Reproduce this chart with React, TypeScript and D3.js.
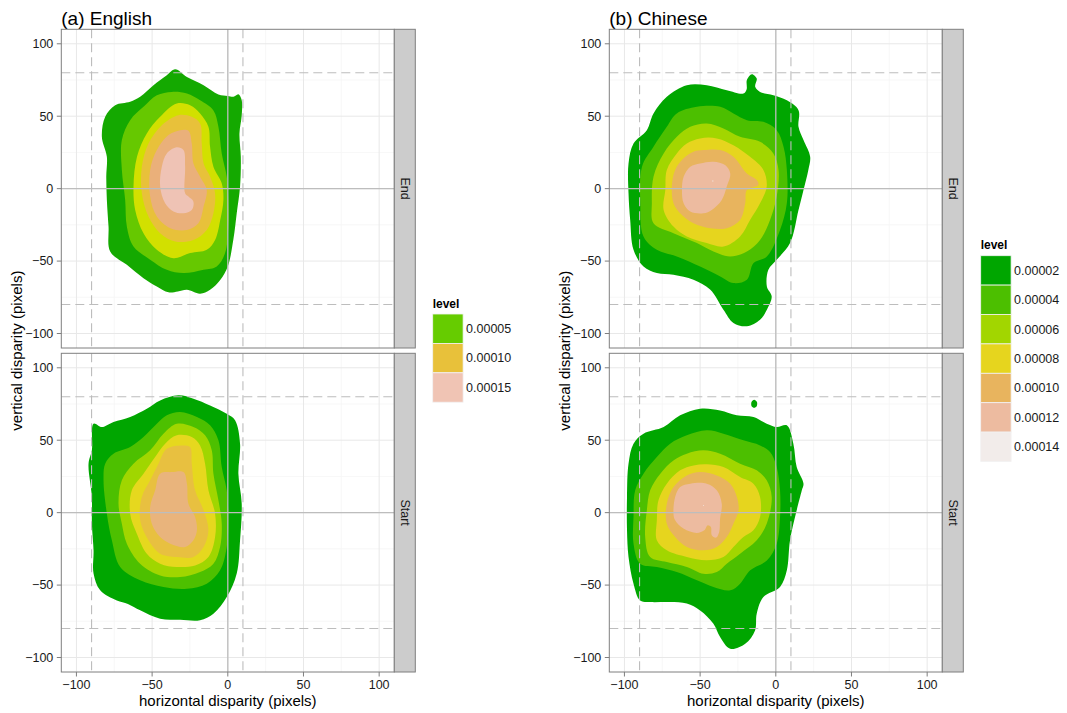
import React from "react";
import * as d3 from "d3";

type Pt = [number, number];

// ---------- axes / reference data ----------
const xTicks = [-100, -50, 0, 50, 100];
const yTicks = [-100, -50, 0, 50, 100];
const minorTicks = [-75, -25, 25, 75];
const solidRefX = [0];
const solidRefY = [0];
const dashedRefX = [-90, 10];
const dashedRefY = [-80, 80];

// ---------- legends ----------
const englishLegendLevels = [0.00005, 0.0001, 0.00015];
const englishLegendLabels = ["0.00005", "0.00010", "0.00015"];
const chineseLegendLevels = [0.00002, 0.00004, 0.00006, 0.00008, 0.0001, 0.00012, 0.00014];
const chineseLegendLabels = ["0.00002", "0.00004", "0.00006", "0.00008", "0.00010", "0.00012", "0.00014"];

// ---------- contour levels ----------
const englishEndLevels = [0.000025, 0.00005, 0.000075, 0.0001, 0.000125, 0.00015];
const englishStartLevels = [0.00002, 0.00004, 0.00006, 0.00008, 0.0001, 0.00012];
const chineseEndLevels = [0.00002, 0.00004, 0.00006, 0.00008, 0.0001, 0.00012, 0.00014];
const chineseStartLevels = [0.00002, 0.00004, 0.00006, 0.00008, 0.0001, 0.00012, 0.00014];

// ---------- contour boundaries (horizontal, vertical disparity) ----------
const englishEndContours: Pt[][] = [
  [[-34.8, 82.4], [-27, 77.1], [-16, 71.4], [-6.2, 65], [0, 64], [3.7, 63.4], [7, 65.2], [9.2, 61], [9.2, 50.7], [7.7, 38], [8.6, 22], [8.1, 1.4], [5.9, -17], [3.7, -35], [0, -53.7], [-5, -63], [-11.7, -69.8], [-18.3, -72.5], [-27, -69.8], [-33, -71], [-39.2, -71.6], [-46.9, -67.5], [-55.7, -61.8], [-66.7, -52.6], [-77.7, -43.4], [-78.8, -26.2], [-79.9, -7.8], [-80.3, 8.3], [-79.9, 22], [-83.2, 35.8], [-81, 49.6], [-74.4, 57.6], [-64.5, 60], [-57.9, 63.4], [-49.1, 71.4], [-40.3, 78.3]],
  [[-37, 66.8], [-27, 65.7], [-18.3, 61], [-9.5, 54], [-6.2, 42.7], [-4, 24.3], [-0.7, 8.3], [0.4, -7.8], [0.4, -26.2], [-1.8, -44.5], [-7.3, -53.7], [-16, -56], [-29.3, -58.3], [-40.3, -56], [-51.3, -49], [-62.3, -40], [-66.7, -26.2], [-67.8, -7.8], [-70, 12.9], [-70, 33.5], [-64.5, 47.3], [-55.7, 56.5], [-46.9, 64.5]],
  [[-33.7, 58.8], [-24.9, 57.6], [-18.3, 51.9], [-12.8, 42.7], [-11.7, 28.9], [-9.5, 15.2], [-4, 3.7], [-2.9, -7.8], [-5, -21.6], [-8.4, -35.4], [-13.9, -42.2], [-24.9, -44.5], [-35.9, -48], [-46.9, -42.2], [-55.7, -30.8], [-61.2, -14.7], [-62.3, 1.4], [-60, 22], [-53.5, 38.1], [-44.7, 49.6]],
  [[-32.6, 50.7], [-23.8, 49.6], [-18.3, 45], [-17.2, 31.2], [-16, 17.4], [-11.7, 8.3], [-8.4, -3.2], [-9.5, -17], [-13.9, -28.5], [-22.7, -35.4], [-34.8, -36.5], [-44.7, -30.8], [-52.4, -19.3], [-56.8, -3.2], [-56.8, 15.2], [-52.4, 31.2], [-43.6, 43.8]],
  [[-31.5, 40.4], [-26, 40], [-23.8, 31.2], [-22.7, 17.4], [-18.3, 8.3], [-13.9, -0.9], [-16, -12.4], [-19.4, -23.9], [-27, -28.5], [-38, -27.3], [-46.9, -19.3], [-51.3, -5.5], [-51.3, 12.9], [-46.9, 26.6], [-39.2, 37]],
  [[-33.7, 28.5], [-29.3, 26.6], [-28.2, 15.2], [-28.2, -3.2], [-26, -5.5], [-22.7, -9], [-23.8, -14.7], [-29.3, -17], [-35.9, -15.8], [-41.4, -10.1], [-44.7, 1.4], [-43.6, 15.2], [-40.3, 24.3]],
];

const englishStartContours: Pt[][] = [
  [[-32.6, 81], [-22.7, 78.7], [-11.7, 74], [-0.7, 68.3], [4.8, 63.8], [8.1, 47.6], [7, 26.9], [9.2, 6.2], [8.1, -19], [5.9, -42], [-0.7, -58.3], [-9.5, -69.8], [-18.3, -74.3], [-31.5, -74], [-44.7, -73.2], [-57.9, -67.4], [-66, -63], [-73.3, -60.6], [-84.3, -53.6], [-88.7, -42], [-88.7, -26], [-89.8, -7.6], [-89.8, 10.8], [-92, 33.8], [-89.8, 43], [-88.7, 61.4], [-83.2, 59.1], [-75.5, 62.6], [-64.5, 66.1], [-53.5, 71.8], [-44.7, 77.5]],
  [[-31.5, 69.5], [-20.4, 66], [-11.7, 60.3], [-6.2, 49.9], [-4, 31.5], [-0.7, 15.4], [0.4, -3], [-0.7, -23.7], [-5.1, -39.8], [-13.9, -49], [-27, -52.5], [-42.5, -51.3], [-57.9, -46.7], [-71.1, -37.5], [-76.6, -19.1], [-79.9, -0.7], [-82.1, 22.3], [-81, 33.8], [-75.5, 40.7], [-64.5, 45.3], [-55.7, 52.2], [-46.9, 61.4], [-40.3, 67.2]],
  [[-33.7, 61.4], [-22.7, 59.1], [-15, 53.4], [-10.6, 43], [-9.5, 26.9], [-6.2, 8.5], [-4, -7.6], [-5.1, -23.7], [-9.5, -35.2], [-18.3, -41], [-31.5, -44.5], [-44.7, -43.3], [-57.9, -35.2], [-66.7, -21.4], [-70, -7.6], [-72.2, 6.2], [-70, 22.3], [-62.3, 33.8], [-51.3, 43], [-42.5, 54.5]],
  [[-33.7, 53.4], [-23.8, 52.2], [-18.3, 46.4], [-15, 33.8], [-12.8, 15.4], [-8.4, -0.7], [-8.4, -16.8], [-12.8, -30.6], [-21.6, -36.4], [-33.7, -37.5], [-44.7, -35.2], [-53.5, -28.3], [-60.1, -14.5], [-64.5, -0.7], [-63.4, 15.4], [-55.7, 26.9], [-48, 38.4], [-41.4, 47.6]],
  [[-40.3, 44.1], [-29.3, 46.4], [-24.9, 45.3], [-23.8, 33.8], [-21.6, 15.4], [-16, 1.6], [-12.8, -12.2], [-16, -23.7], [-22.7, -30.6], [-33.7, -30.6], [-44.7, -28.3], [-52.4, -19.1], [-57.9, -5.3], [-56.8, 10.8], [-51.3, 22.3], [-45.8, 33.8]],
  [[-44.7, 26.9], [-37, 28], [-29.3, 28], [-27, 20], [-26, 6.2], [-21.6, -3], [-20.4, -12.2], [-22.7, -19.1], [-28.2, -23.7], [-38, -21.4], [-44.7, -16.8], [-50.2, -7.6], [-51.3, 3.9], [-48, 15.4]],
];

const chineseEndContours: Pt[][] = [
  [[-58.8, 71.4], [-45.6, 71.4], [-32.4, 68], [-21.4, 65.7], [-19.3, 68.5], [-19.1, 75], [-15.8, 79], [-12.6, 76], [-13.6, 70.3], [-10.4, 66.8], [-1.6, 64.5], [7.3, 61], [15, 54.2], [15, 42.7], [18.3, 33.5], [22.7, 22], [21.5, 12.9], [18.3, -0.9], [15, -14.7], [9.4, -37.6], [0.6, -49.1], [-4.9, -56], [-5.9, -67.5], [-2.7, -74.4], [-5.9, -83.6], [-10.4, -90.5], [-19.1, -95], [-28, -92.7], [-34.6, -83.6], [-43.4, -69.7], [-54.4, -62.9], [-67.6, -59.5], [-78.6, -58.3], [-87.4, -53.7], [-94, -42.2], [-96.2, -21.6], [-97.3, -3.2], [-97.3, 17.4], [-94, 31.2], [-85.2, 40.4], [-80.8, 51.9], [-72, 63.4]],
  [[-65.4, 51.9], [-52.1, 56.5], [-36.7, 56.5], [-28, 51.9], [-19.1, 47.3], [-8.2, 46.1], [0.6, 40.4], [5.1, 28.9], [7.3, 12.9], [7.3, -10.1], [2.8, -28.5], [-5.9, -46.8], [-14.7, -51.4], [-19.1, -62.9], [-28, -65.2], [-36.7, -60.6], [-50, -53.7], [-65.4, -46.8], [-78.6, -42.2], [-87.4, -33], [-89.5, -10.1], [-88.4, 15.2], [-80.8, 28.9], [-72, 42.7]],
  [[-56.5, 42.7], [-45.6, 45], [-34.6, 41.6], [-23.6, 35.8], [-10.4, 32.3], [-1.6, 24.3], [1.8, 12.9], [0.6, -5.5], [-3.8, -21.6], [-10.4, -35.4], [-19.1, -43.4], [-30.1, -46.8], [-41.2, -43.4], [-52.1, -37.6], [-67.6, -30.8], [-80.8, -23.9], [-81.9, -10.1], [-80.8, 8.3], [-74.1, 24.3], [-65.4, 35.8]],
  [[-50, 34.7], [-39, 34.7], [-28, 30], [-17, 22], [-8.2, 12.9], [-6, 1.4], [-10.4, -10.1], [-17, -21.6], [-23.6, -33], [-34.6, -40], [-45.6, -37.6], [-58.8, -33], [-67.6, -26.2], [-74.1, -14.7], [-73, -0.9], [-72, 12.9], [-65.4, 24.3], [-58.8, 31.2]],
  [[-47.8, 26.6], [-36.7, 26.6], [-28, 22], [-19.1, 10.5], [-12.6, 5.9], [-11.5, 2.5], [-19.1, -0.9], [-20.2, -10.1], [-23.6, -21.6], [-32.4, -27.3], [-43.4, -27.3], [-54.4, -23.9], [-63.2, -17], [-67.6, -10.1], [-68.7, 1.4], [-66.5, 12.9], [-60.9, 20.9], [-54.4, 25.5]],
  [[-50, 17.4], [-41.2, 18.6], [-33.5, 16.3], [-30.1, 10.5], [-32.4, 1.4], [-35.7, -7.8], [-42.3, -14.7], [-47.8, -17], [-56.5, -15.8], [-60.9, -10.1], [-62, -0.9], [-60.9, 8.3], [-56.5, 15.2]],
  [[-41.9, 5.6], [-41.3, 5.6], [-41.3, 5.0], [-41.9, 5.0]],
];

const chineseStartContours: Pt[][] = [
  [[-74.1, 59.1], [-63.2, 67.2], [-50, 71.8], [-36.8, 70.6], [-25.8, 67.2], [-14.7, 66], [-6, 61.4], [0.6, 59.1], [7.3, 60.3], [11.6, 47.6], [13.8, 31.5], [18.3, 20], [17.2, 15.4], [13.8, 1.6], [9.4, -19.1], [7.3, -39.8], [2.8, -51.3], [-8.2, -58.3], [-12.6, -69.8], [-13.7, -81.3], [-20.2, -90.5], [-30.1, -94], [-36.8, -85.9], [-41.2, -76.7], [-50, -67.5], [-58.8, -62.8], [-69.8, -61.7], [-83, -61.7], [-89.6, -60.6], [-94, -49], [-97.3, -30.6], [-98.3, -12.2], [-98.3, 10.8], [-97.3, 33.8], [-94, 47.6], [-87.4, 54.5]],
  [[-78.6, 38.4], [-69.8, 47.6], [-58.8, 53.4], [-45.6, 56.8], [-34.6, 54.5], [-21.4, 49.9], [-10.4, 46.4], [-3.8, 41.8], [0.6, 31.5], [2.8, 15.4], [2.8, -3], [0.6, -21.4], [-5.9, -33], [-16.9, -39.8], [-23.6, -49], [-30.1, -53.6], [-41.2, -51.3], [-52.1, -46.7], [-65.4, -41], [-78.6, -37.5], [-89.6, -35.2], [-94, -21.4], [-94, -3], [-92.9, 15.4], [-87.4, 26.9]],
  [[-58.8, 40.7], [-47.8, 43], [-36.8, 40.7], [-23.6, 33.8], [-12.6, 29.2], [-6, 22.3], [-2.7, 10.8], [-6, -7.6], [-12.6, -19.1], [-23.6, -28.3], [-32.4, -35.2], [-39, -41], [-47.8, -42.2], [-58.8, -37.5], [-72, -34.1], [-83, -30.6], [-86.3, -16.8], [-85.2, 1.6], [-83, 15.4], [-76.3, 26.9], [-67.4, 36.1]],
  [[-54.3, 32.6], [-45.6, 33.4], [-34.6, 31.5], [-23.6, 24.6], [-14.8, 20], [-10.4, 10.8], [-10.4, -3], [-14.8, -12.2], [-21.4, -16.8], [-28, -23.7], [-34.6, -30.6], [-45.6, -32.9], [-58.8, -30.6], [-72, -26], [-78.6, -19.1], [-78.6, -5.3], [-77.5, 8.5], [-72, 20], [-63.2, 29.2]],
  [[-58.8, 25.7], [-50, 28], [-39, 25.7], [-30.1, 20], [-25.7, 10.8], [-24.6, 1.6], [-28, -7.6], [-32.4, -16.8], [-39, -23.7], [-47.8, -26], [-58.8, -23.7], [-66.5, -16.8], [-72, -7.6], [-72, 6.2], [-67.6, 17.7]],
  [[-63.2, 17.7], [-56.5, 20], [-45.6, 20], [-39, 15.4], [-35.7, 6.2], [-36.8, -4.1], [-37.4, -13.3], [-39.4, -17.2], [-42.3, -15.6], [-42.9, -9.9], [-45.1, -8.8], [-47.3, -12.2], [-52.2, -14], [-61, -11], [-66.5, -5.3], [-67.6, -0.7], [-66.5, 10.8]],
  [[-48.0, 5.1], [-47.5, 5.1], [-47.5, 4.6], [-48.0, 4.6]],
];
// small detached island of lowest level in Chinese Start
const chineseStartIsland: Pt[] = [[-14.3, 78], [-12.5, 76.5], [-12.6, 73.5], [-14.3, 72.4], [-16, 73.5], [-16, 76.5]];

// ---------- styles ----------
const englishLegendColors = ["#66CC00", "#E8C13A", "#F0C4B4"];
const chineseLegendColors = ["#00A600", "#4CBF00", "#A2D600", "#E6D51E", "#E8B45E", "#EDBBA0", "#F2ECEA"];
const englishEndColors = ["#14A900", "#66C800", "#D2E000", "#E8C13A", "#EAB07A", "#EFC3B5"];
const englishStartColors = ["#00A600", "#4DC000", "#A0D600", "#E6D81E", "#E8C040", "#E9B47C"];
const chineseColors = ["#00A600", "#4CBF00", "#A2D600", "#E6D51E", "#E8B45E", "#EDBBA0", "#F2ECEA"];

const FONT = "'Liberation Sans', Arial, Helvetica, sans-serif";
const W = 1067;
const H = 713;

const PANEL_W = 333;
const STRIP_W = 21;
const FACET_TOPS = [29.3, 353.3];
const FACET_H = 318.7;

const line = d3.line<Pt>().curve(d3.curveCatmullRomClosed.alpha(0.5));

interface FacetProps {
  id: string;
  left: number;
  top: number;
  label: string;
  contours: Pt[][];
  levels: number[];
  colors: string[];
  extra?: { pts: Pt[]; color: string }[];
  showX: boolean;
}

function Facet({ id, left, top, label, contours, levels, colors, extra, showX }: FacetProps) {
  const x = d3.scaleLinear().domain([-110, 110]).range([left, left + PANEL_W]);
  const y = d3.scaleLinear().domain([-110, 110]).range([top + FACET_H, top]);
  const gen = line.x((d) => x(d[0])).y((d) => y(d[1]));
  const right = left + PANEL_W;
  const bottom = top + FACET_H;
  return (
    <g>
      <defs>
        <clipPath id={id}>
          <rect x={left} y={top} width={PANEL_W} height={FACET_H} />
        </clipPath>
      </defs>
      <rect x={left} y={top} width={PANEL_W} height={FACET_H} fill="#FFFFFF" />
      {minorTicks.map((t) => (
        <g key={"mn" + t}>
          <line x1={x(t)} x2={x(t)} y1={top} y2={bottom} stroke="#F5F5F5" strokeWidth={0.8} />
          <line x1={left} x2={right} y1={y(t)} y2={y(t)} stroke="#F5F5F5" strokeWidth={0.8} />
        </g>
      ))}
      {xTicks.map((t) => (
        <line key={"gx" + t} x1={x(t)} x2={x(t)} y1={top} y2={bottom} stroke="#E8E8E8" strokeWidth={1} />
      ))}
      {yTicks.map((t) => (
        <line key={"gy" + t} x1={left} x2={right} y1={y(t)} y2={y(t)} stroke="#E8E8E8" strokeWidth={1} />
      ))}
      <g clipPath={`url(#${id})`}>
        {contours.map((c, i) => (
          <path key={"c" + levels[i]} d={gen(c) || ""} fill={colors[i]} stroke="none" />
        ))}
        {(extra || []).map((e, i) => (
          <path key={"e" + i} d={gen(e.pts) || ""} fill={e.color} />
        ))}
        {solidRefX.map((v) => (
          <line key={"sx" + v} x1={x(v)} x2={x(v)} y1={top} y2={bottom} stroke="#BDBDBD" strokeWidth={1.3} />
        ))}
        {solidRefY.map((v) => (
          <line key={"sy" + v} x1={left} x2={right} y1={y(v)} y2={y(v)} stroke="#BDBDBD" strokeWidth={1.3} />
        ))}
        {dashedRefX.map((v) => (
          <line key={"dx" + v} x1={x(v)} x2={x(v)} y1={top} y2={bottom} stroke="#BDBDBD" strokeWidth={1.1} strokeDasharray="9,5" />
        ))}
        {dashedRefY.map((v) => (
          <line key={"dy" + v} x1={left} x2={right} y1={y(v)} y2={y(v)} stroke="#BDBDBD" strokeWidth={1.1} strokeDasharray="9,5" />
        ))}
      </g>
      <rect x={left} y={top} width={PANEL_W} height={FACET_H} fill="none" stroke="#7F7F7F" strokeWidth={1} />
      {/* strip */}
      <rect x={right} y={top} width={STRIP_W} height={FACET_H} fill="#CCCCCC" stroke="#7F7F7F" strokeWidth={1} />
      <text
        x={right + STRIP_W / 2}
        y={top + FACET_H / 2}
        transform={`rotate(90, ${right + STRIP_W / 2}, ${top + FACET_H / 2})`}
        textAnchor="middle"
        dominantBaseline="central"
        fontFamily={FONT}
        fontSize={12.5}
        fill="#1A1A1A"
      >
        {label}
      </text>
      {/* y axis */}
      {yTicks.map((t) => (
        <g key={"yt" + t}>
          <line x1={left - 4.5} x2={left} y1={y(t)} y2={y(t)} stroke="#7F7F7F" strokeWidth={1} />
          <text x={left - 8} y={y(t)} dy="0.35em" textAnchor="end" fontFamily={FONT} fontSize={12.5} fill="#1A1A1A">
            {t < 0 ? "\u2212" + Math.abs(t) : String(t)}
          </text>
        </g>
      ))}
      {showX &&
        xTicks.map((t) => (
          <g key={"xt" + t}>
            <line x1={x(t)} x2={x(t)} y1={bottom} y2={bottom + 4.5} stroke="#7F7F7F" strokeWidth={1} />
            <text x={x(t)} y={bottom + 17} textAnchor="middle" fontFamily={FONT} fontSize={12.5} fill="#1A1A1A">
              {t < 0 ? "\u2212" + Math.abs(t) : String(t)}
            </text>
          </g>
        ))}
    </g>
  );
}

interface LegendProps {
  left: number;
  top: number;
  levels: number[];
  labels: string[];
  colors: string[];
}

function Legend({ left, top, levels, labels, colors }: LegendProps) {
  const kh = 29.4;
  const kw = 30.4;
  const y = d3
    .scaleBand<number>()
    .domain(levels)
    .range([top, top + kh * levels.length]);
  return (
    <g>
      <text x={left} y={top - 6.5} fontFamily={FONT} fontSize={12} fontWeight="bold" fill="#000">
        level
      </text>
      {levels.map((l, i) => (
        <g key={"lg" + l}>
          <rect x={left} y={y(l)} width={kw} height={kh} fill={colors[i]} stroke="#F2F2F2" strokeWidth={0.8} />
          <text x={left + kw + 3} y={(y(l) || 0) + kh / 2} dy="0.35em" fontFamily={FONT} fontSize={12.5} fill="#1A1A1A">
            {labels[i]}
          </text>
        </g>
      ))}
    </g>
  );
}

function Panel({
  left,
  title,
  idp,
  end,
  start,
}: {
  left: number;
  title: string;
  idp: string;
  end: Omit<FacetProps, "id" | "left" | "top" | "showX" | "label">;
  start: Omit<FacetProps, "id" | "left" | "top" | "showX" | "label">;
}) {
  const cx = left + PANEL_W / 2;
  const cy = (FACET_TOPS[0] + FACET_TOPS[1] + FACET_H) / 2;
  const ytx = left - 39.5;
  return (
    <g>
      <text x={left} y={24.5} fontFamily={FONT} fontSize={19} fill="#000">
        {title}
      </text>
      <Facet id={idp + "end"} left={left} top={FACET_TOPS[0]} label="End" showX={false} {...end} />
      <Facet id={idp + "start"} left={left} top={FACET_TOPS[1]} label="Start" showX={true} {...start} />
      <text x={cx} y={706} textAnchor="middle" fontFamily={FONT} fontSize={15} fill="#000">
        horizontal disparity (pixels)
      </text>
      <text
        x={ytx}
        y={cy}
        transform={`rotate(-90, ${ytx}, ${cy})`}
        textAnchor="middle"
        fontFamily={FONT}
        fontSize={15}
        fill="#000"
      >
        vertical disparity (pixels)
      </text>
    </g>
  );
}

export default function App() {
  return (
    <svg
      width={W}
      height={H}
      viewBox={`0 0 ${W} ${H}`}
      style={{ position: "absolute", left: 0, top: 0, background: "#FFFFFF" }}
    >
      <rect x={0} y={0} width={W} height={H} fill="#FFFFFF" />
      <Panel
        left={61.3}
        title="(a) English"
        idp="en"
        end={{ contours: englishEndContours, levels: englishEndLevels, colors: englishEndColors }}
        start={{ contours: englishStartContours, levels: englishStartLevels, colors: englishStartColors }}
      />
      <Panel
        left={609.3}
        title="(b) Chinese"
        idp="zh"
        end={{ contours: chineseEndContours, levels: chineseEndLevels, colors: chineseColors }}
        start={{
          contours: chineseStartContours,
          levels: chineseStartLevels,
          colors: chineseColors,
          extra: [{ pts: chineseStartIsland, color: chineseColors[0] }],
        }}
      />
      <Legend left={432.7} top={314} levels={englishLegendLevels} labels={englishLegendLabels} colors={englishLegendColors} />
      <Legend left={980.7} top={255.7} levels={chineseLegendLevels} labels={chineseLegendLabels} colors={chineseLegendColors} />
    </svg>
  );
}
